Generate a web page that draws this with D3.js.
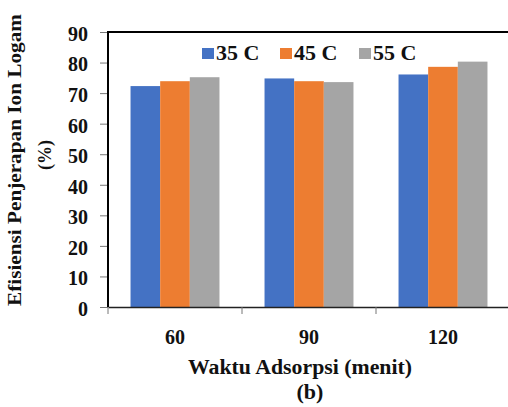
<!DOCTYPE html>
<meta charset="utf-8">
<script src="https://d3js.org/d3.v7.min.js"></script>
<style>
  body { margin: 0; background: #fff; }
  text { font-family: "Liberation Serif", "Times New Roman", serif; font-weight: bold; fill: #111; }
</style>
<body>
<div id="my_dataviz"></div>
<script>
// data
var times = ["60", "90", "120"];
var series = ["35 C", "45 C", "55 C"];
var colors = ["#4472C4", "#ED7D31", "#A5A5A5"];
var val35 = [72.3, 74.8, 76.1];
var val45 = [73.9, 73.9, 78.6];
var val55 = [75.2, 73.6, 80.3];
var yTicks = [0, 10, 20, 30, 40, 50, 60, 70, 80, 90];

var values = [val35, val45, val55];

var margin = {top: 32, left: 108},
    width = 402,
    height = 275;

var svg = d3.select("#my_dataviz")
  .append("svg")
    .attr("width", 508)
    .attr("height", 407)
  .append("g")
    .attr("transform", "translate(" + margin.left + "," + margin.top + ")");

// scales
var x = d3.scaleBand()
  .domain(times)
  .range([0, width])
  .padding(0);

var xSub = d3.scaleBand()
  .domain(series)
  .range([0, x.bandwidth()])
  .paddingInner(0)
  .paddingOuter(0.76);

var y = d3.scaleLinear()
  .domain([0, 90])
  .range([height, 0]);

// bars
series.forEach(function(s, i) {
  svg.append("g")
    .selectAll("rect")
    .data(times)
    .enter()
    .append("rect")
      .attr("x", function(d) { return x(d) + xSub(s); })
      .attr("y", function(d, j) { return y(values[i][j]); })
      .attr("width", xSub.bandwidth())
      .attr("height", function(d, j) { return height - y(values[i][j]); })
      .attr("fill", colors[i]);
});

// Y axis
var yAxis = svg.append("g")
  .call(d3.axisLeft(y).tickValues(yTicks).tickSize(8).tickPadding(12).tickFormat(d3.format("d")));
yAxis.select(".domain").remove();
yAxis.selectAll("line").attr("stroke", "#777");
yAxis.selectAll("text").style("font-size", "20px").attr("dy", "0.42em");

// X axis ticks at category edges
var xAxis = svg.append("g")
  .attr("transform", "translate(0," + height + ")")
  .call(d3.axisBottom(x).tickSize(0).tickPadding(23));
xAxis.select(".domain").attr("stroke", "#222").attr("stroke-width", 1.5);
xAxis.selectAll("text").style("font-size", "20px");
svg.append("g")
  .selectAll("line")
  .data(times)
  .enter()
  .append("line")
    .attr("x1", function(d) { return x(d); })
    .attr("x2", function(d) { return x(d); })
    .attr("y1", height)
    .attr("y2", height + 7)
    .attr("stroke", "#777");

// frame: top and left
svg.append("line")
  .attr("x1", 0).attr("x2", width).attr("y1", 0).attr("y2", 0)
  .attr("stroke", "#000").attr("stroke-width", 2);
svg.append("line")
  .attr("x1", 0).attr("x2", 0).attr("y1", -1).attr("y2", height)
  .attr("stroke", "#000").attr("stroke-width", 2);

// legend
var legX = [94, 172, 251];
var leg = svg.append("g");
series.forEach(function(s, i) {
  leg.append("rect")
    .attr("x", legX[i]).attr("y", 16)
    .attr("width", 12).attr("height", 11)
    .attr("fill", colors[i]);
  leg.append("text")
    .attr("x", legX[i] + 14).attr("y", 28)
    .style("font-size", "22px")
    .text(s);
});

// axis titles
var root = d3.select("svg");
root.append("text")
  .attr("transform", "translate(21,160) rotate(-90)")
  .attr("text-anchor", "middle")
  .attr("textLength", 292)
  .attr("lengthAdjust", "spacingAndGlyphs")
  .style("font-size", "18px")
  .text("Efisiensi Penjerapan Ion Logam");
root.append("text")
  .attr("transform", "translate(51,155) rotate(-90)")
  .attr("text-anchor", "middle")
  .style("font-size", "18px")
  .text("(%)");

root.append("text")
  .attr("x", 300).attr("y", 374)
  .attr("text-anchor", "middle")
  .attr("textLength", 224)
  .attr("lengthAdjust", "spacingAndGlyphs")
  .style("font-size", "20px")
  .text("Waktu Adsorpsi (menit)");
root.append("text")
  .attr("x", 310).attr("y", 399)
  .attr("text-anchor", "middle")
  .style("font-size", "22px")
  .text("(b)");
</script>
</body>
